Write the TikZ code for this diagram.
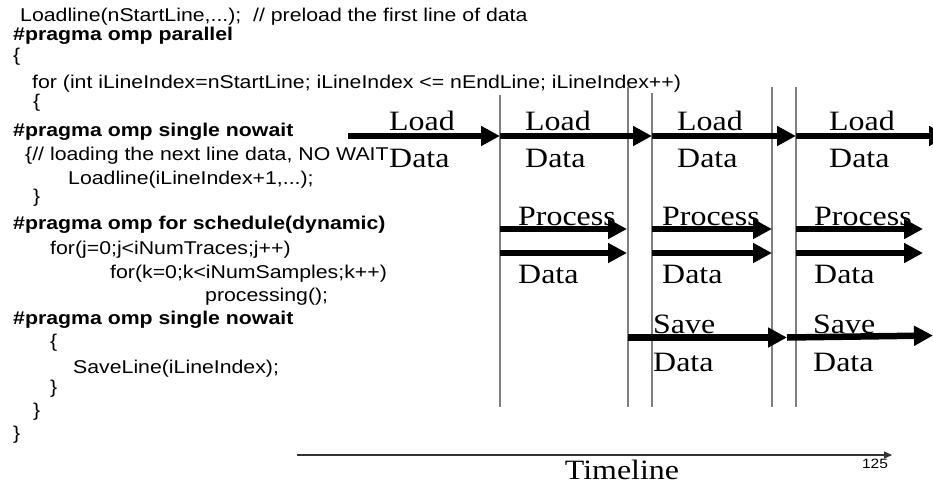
\documentclass[tikz,border=0pt]{standalone}
\usepackage{fontspec}
\setmainfont{Liberation Sans}
\newfontfamily\codefont[FakeStretch=1.15]{Liberation Sans}
\newfontfamily\labfont[FakeStretch=1.14]{Liberation Serif}
\usetikzlibrary{arrows.meta}
\begin{document}
\begin{tikzpicture}[x=1pt,y=-1pt,
  code/.style={anchor=base west,inner sep=0pt,font=\codefont\fontsize{18.5}{20}\selectfont},
  pragma/.style={anchor=base west,inner sep=0pt,font=\codefont\bfseries\fontsize{18.5}{20}\selectfont},
  lab/.style={anchor=base west,inner sep=0pt,font=\labfont\fontsize{28}{30}\selectfont},
  bar/.style={draw=black!50,line width=1.3pt},
  flow/.style={line width=6.5pt,-{Triangle[length=19pt,width=19pt]}},
]
\path[use as bounding box] (0,0) rectangle (933,485);
\clip (0,0) rectangle (933,485);

% ---- code listing ----
\node[code]   (c1)  at (20,21)  {Loadline(nStartLine,...);\ \ // preload the first line of data};
\node[pragma] (c2)  at (13,40)  {\#pragma omp parallel};
\node[code]   (c3)  at (13,61)  {\{};
\node[code]   (c4)  at (32,88)  {for (int iLineIndex=nStartLine; iLineIndex <= nEndLine; iLineIndex++)};
\node[code]   (c5)  at (33,107) {\{};
\node[pragma] (c6)  at (13,136) {\#pragma omp single nowait};
\node[code]   (c7)  at (25,160) {\{// loading the next line data, NO WAIT};
\node[code]   (c8)  at (68,184) {Loadline(iLineIndex+1,...);};
\node[code]   (c9)  at (33,202) {\}};
\node[pragma] (c10) at (13,229) {\#pragma omp for schedule(dynamic)};
\node[code]   (c11) at (50,254) {for(j=0;j<iNumTraces;j++)};
\node[code]   (c12) at (110,278) {for(k=0;k<iNumSamples;k++)};
\node[code]   (c13) at (205,301) {processing();};
\node[pragma] (c14) at (13,324) {\#pragma omp single nowait};
\node[code]   (c15) at (50,347) {\{};
\node[code]   (c16) at (73,373) {SaveLine(iLineIndex);};
\node[code]   (c17) at (50,393) {\}};
\node[code]   (c18) at (33,416) {\}};
\node[code]   (c19) at (13,439) {\}};

% ---- vertical separators ----
\coordinate (v1t) at (500,95);  \coordinate (v1b) at (500,407);
\coordinate (v2t) at (628,87);  \coordinate (v2b) at (628,407);
\coordinate (v3t) at (652,93);  \coordinate (v3b) at (652,407);
\coordinate (v4t) at (772,87);  \coordinate (v4b) at (772,407);
\coordinate (v5t) at (796,87);  \coordinate (v5b) at (796,407);
\draw[bar] (v1t) -- (v1b);
\draw[bar] (v2t) -- (v2b);
\draw[bar] (v3t) -- (v3b);
\draw[bar] (v4t) -- (v4b);
\draw[bar] (v5t) -- (v5b);

% ---- labels ----
\node[lab] (l1a) at (389,130) {Load};  \node[lab] (l1b) at (389,167) {Data};
\node[lab] (l2a) at (525,130) {Load};  \node[lab] (l2b) at (525,167) {Data};
\node[lab] (l3a) at (677,130) {Load};  \node[lab] (l3b) at (677,167) {Data};
\node[lab] (l4a) at (829,130) {Load};  \node[lab] (l4b) at (829,167) {Data};

\node[lab] (p1a) at (518,225) {Process}; \node[lab] (p1b) at (518,283) {Data};
\node[lab] (p2a) at (662,225) {Process}; \node[lab] (p2b) at (662,283) {Data};
\node[lab] (p3a) at (814,225) {Process}; \node[lab] (p3b) at (814,283) {Data};

\node[lab] (s1a) at (653,333) {Save}; \node[lab] (s1b) at (653,371) {Data};
\node[lab] (s2a) at (813,333) {Save}; \node[lab] (s2b) at (813,371) {Data};

% ---- load arrows ----
\coordinate (la0) at (348,136);
\coordinate (la1) at (500,136);
\coordinate (la2) at (652,136);
\coordinate (la3) at (796,136);
\coordinate (la4) at (948,136);
\draw[flow] (la0) -- (la1);
\draw[flow] (la1) -- (la2);
\draw[flow] (la2) -- (la3);
\draw[flow] (la3) -- (la4);

% ---- process arrows ----
\coordinate (pa1s) at (500,229); \coordinate (pa1e) at (627,229);
\coordinate (pa2s) at (652,229); \coordinate (pa2e) at (772,229);
\coordinate (pa3s) at (796,229); \coordinate (pa3e) at (923,229);
\coordinate (pb1s) at (500,253); \coordinate (pb1e) at (627,253);
\coordinate (pb2s) at (652,253); \coordinate (pb2e) at (772,253);
\coordinate (pb3s) at (796,253); \coordinate (pb3e) at (923,253);
\draw[flow] (pa1s) -- (pa1e);
\draw[flow] (pa2s) -- (pa2e);
\draw[flow] (pa3s) -- (pa3e);
\draw[flow] (pb1s) -- (pb1e);
\draw[flow] (pb2s) -- (pb2e);
\draw[flow] (pb3s) -- (pb3e);

% ---- save arrows ----
\coordinate (sa1s) at (628,337.5); \coordinate (sa1e) at (787,337.5);
\coordinate (sa2s) at (787,337.5); \coordinate (sa2e) at (933,335.5);
\draw[flow] (sa1s) -- (sa1e);
\draw[flow] (sa2s) -- (sa2e);

% ---- timeline ----
\coordinate (t0) at (297,455);
\coordinate (t1) at (892,455);
\draw[black!80,line width=1.2pt,-{Triangle[length=8pt,width=7pt]}] (t0) -- (t1);
\node[anchor=base,inner sep=0pt,font=\labfont\fontsize{28}{30}\selectfont] (tl) at (622,479) {Timeline};
\node[anchor=base,inner sep=0pt,font=\codefont\fontsize{13.5}{15}\selectfont] (pg) at (875,468) {125};
\end{tikzpicture}
\end{document}
